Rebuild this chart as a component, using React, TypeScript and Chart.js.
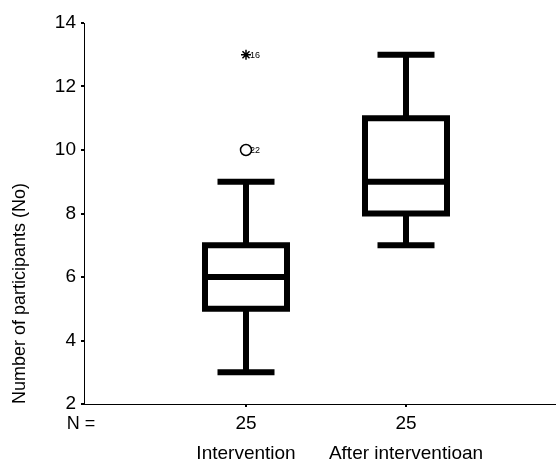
import { useEffect, useRef } from "react";
import { Chart, registerables } from "chart.js";

Chart.register(...registerables);

// ---- data ----
const categories = ["Intervention", "After interventioan"];
const groupN = ["25", "25"];
const boxCenters = [1, 2];
const whiskerLow = [3, 7];
const q1 = [5, 8];
const medians = [6, 9];
const q3 = [7, 11];
const whiskerHigh = [9, 13];
const outlierGroup = [1, 1];
const outlierValues = [13, 10];
const outlierCases = ["16", "22"];
const outlierKinds = ["extreme", "outlier"];
const yTicks = [2, 4, 6, 8, 10, 12, 14];

const FONT = "'Liberation Sans', Arial, Helvetica, sans-serif";

const boxPlotPlugin = {
  id: "boxPlot",
  beforeDatasetsDraw(chart: any) {
    const { ctx } = chart;
    const x = chart.scales.x;
    const y = chart.scales.y;
    const boxHalf = 41;
    const capHalf = 28.5;
    ctx.save();
    ctx.strokeStyle = "#000";
    ctx.lineWidth = 6;
    ctx.lineCap = "butt";
    ctx.lineJoin = "miter";
    boxCenters.forEach((c, i) => {
      const cx = x.getPixelForValue(c);
      const yLo = y.getPixelForValue(whiskerLow[i]);
      const yQ1 = y.getPixelForValue(q1[i]);
      const yMed = y.getPixelForValue(medians[i]);
      const yQ3 = y.getPixelForValue(q3[i]);
      const yHi = y.getPixelForValue(whiskerHigh[i]);
      ctx.beginPath();
      ctx.moveTo(cx, yHi);
      ctx.lineTo(cx, yQ3);
      ctx.moveTo(cx, yQ1);
      ctx.lineTo(cx, yLo);
      ctx.moveTo(cx - capHalf, yHi);
      ctx.lineTo(cx + capHalf, yHi);
      ctx.moveTo(cx - capHalf, yLo);
      ctx.lineTo(cx + capHalf, yLo);
      ctx.stroke();
      ctx.fillStyle = "#fff";
      ctx.fillRect(cx - boxHalf, yQ3, boxHalf * 2, yQ1 - yQ3);
      ctx.strokeRect(cx - boxHalf, yQ3, boxHalf * 2, yQ1 - yQ3);
      ctx.beginPath();
      ctx.moveTo(cx - boxHalf, yMed);
      ctx.lineTo(cx + boxHalf, yMed);
      ctx.stroke();
    });
    ctx.restore();
  },
  afterDatasetsDraw(chart: any) {
    const { ctx } = chart;
    const x = chart.scales.x;
    const y = chart.scales.y;
    ctx.save();
    ctx.fillStyle = "#000";
    ctx.font = `9px ${FONT}`;
    ctx.textAlign = "left";
    ctx.textBaseline = "middle";
    outlierValues.forEach((v, i) => {
      const px = x.getPixelForValue(outlierGroup[i]) + 4;
      const py = y.getPixelForValue(v);
      ctx.fillText(outlierCases[i], px, py + 0.5);
    });
    ctx.font = `18px ${FONT}`;
    ctx.textAlign = "center";
    ctx.fillText("N =", chart.chartArea.left - 3, chart.chartArea.bottom + 20);
    ctx.restore();
  },
};

export default function App() {
  const ref = useRef<HTMLCanvasElement | null>(null);
  useEffect(() => {
    document.body.style.margin = "0";
    if (!ref.current) return;
    const chart = new Chart(ref.current, {
      type: "scatter",
      data: {
        datasets: [
          {
            data: outlierValues.map((v, i) => ({ x: outlierGroup[i], y: v })),
            pointStyle: outlierKinds.map((k) => (k === "extreme" ? "star" : "circle")) as any,
            pointRadius: outlierKinds.map((k) => (k === "extreme" ? 5 : 5.5)),
            pointBorderWidth: 1.5,
            pointBorderColor: "#000",
            pointBackgroundColor: "#fff",
            showLine: false,
          },
        ],
      },
      options: {
        responsive: false,
        maintainAspectRatio: false,
        animation: false,
        devicePixelRatio: 1,
        layout: { autoPadding: false, padding: { top: 23, right: 0, left: 0, bottom: 0 } },
        plugins: {
          legend: { display: false },
          tooltip: { enabled: false },
        },
        events: [],
        scales: {
          x: {
            type: "linear",
            min: -0.0125,
            max: 2.9375,
            afterFit: (s: any) => {
              s.height = 61;
            },
            afterBuildTicks: (s: any) => {
              s.ticks = boxCenters.map((v) => ({ value: v }));
            },
            ticks: {
              color: "#000",
              font: { family: FONT, size: 19, lineHeight: 30 / 19 },
              padding: 2,
              maxRotation: 0,
              autoSkip: false,
              callback: (_v: any, i: number) => [groupN[i], categories[i]],
            },
            grid: {
              drawOnChartArea: false,
              drawTicks: true,
              tickLength: 3,
              color: "#000",
              lineWidth: 2,
            },
            border: { display: true, color: "#000", width: 1 },
          },
          y: {
            min: 2,
            max: 14,
            afterFit: (s: any) => {
              s.width = 84;
            },
            afterBuildTicks: (s: any) => {
              s.ticks = yTicks.map((v) => ({ value: v }));
            },
            ticks: {
              color: "#000",
              font: { family: FONT, size: 19 },
              padding: 5,
            },
            grid: {
              drawOnChartArea: false,
              drawTicks: true,
              tickLength: 3,
              color: "#000",
              lineWidth: 2,
            },
            border: { display: true, color: "#000", width: 1 },
            title: {
              display: true,
              text: "Number of participants (No)",
              align: "start",
              color: "#000",
              font: { family: FONT, size: 18 },
              padding: { top: 9, bottom: 0 },
            },
          },
        },
      },
      plugins: [boxPlotPlugin],
    } as any);
    return () => chart.destroy();
  }, []);
  return (
    <div style={{ width: 556, height: 465 }}>
      <canvas ref={ref} width={556} height={465} style={{ display: "block" }} />
    </div>
  );
}
